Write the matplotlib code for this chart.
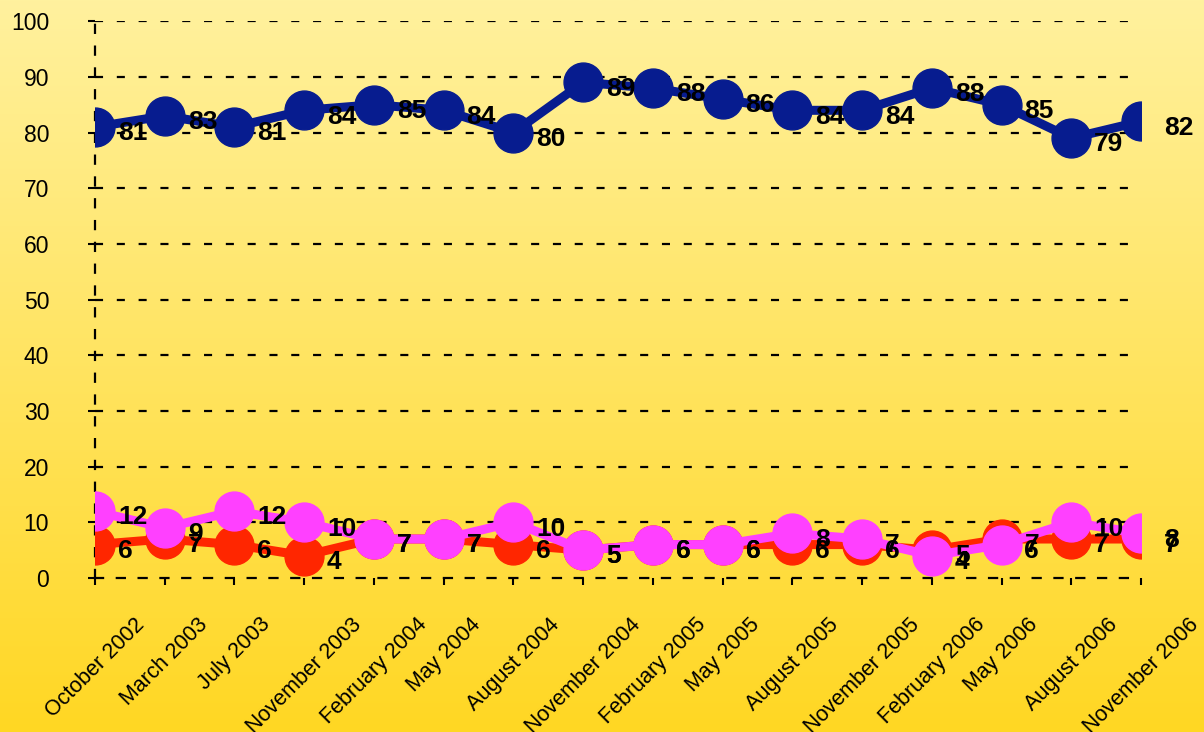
import matplotlib.pyplot as plt
import numpy as np

plt.rcParams['font.family'] = ['Liberation Sans', 'DejaVu Sans']
plt.rcParams['lines.scale_dashes'] = False

# Survey dates (x categories)
dates = ['October 2002', 'March 2003', 'July 2003', 'November 2003', 'February 2004',
         'May 2004', 'August 2004', 'November 2004', 'February 2005', 'May 2005',
         'August 2005', 'November 2005', 'February 2006', 'May 2006', 'August 2006',
         'November 2006']

# Series values (percent)
blue_vals = [81, 83, 81, 84, 85, 84, 80, 89, 88, 86, 84, 84, 88, 85, 79, 82]
red_vals = [6, 7, 6, 4, 7, 7, 6, 5, 6, 6, 6, 6, 5, 7, 7, 7]
magenta_vals = [12, 9, 12, 10, 7, 7, 10, 5, 6, 6, 8, 7, 4, 6, 10, 8]

yticks = list(range(0, 101, 10))

fig = plt.figure(figsize=(12.04, 7.32), dpi=100)

# yellow vertical gradient background
bg = fig.add_axes([0, 0, 1, 1], zorder=-10)
top = np.array([255, 241, 158]) / 255
bot = np.array([255, 215, 35]) / 255
t = np.linspace(0, 1, 256)[:, None]
grad = top * (1 - t[..., None]) + bot * t[..., None]
bg.imshow(grad, aspect='auto', extent=[0, 1, 0, 1])
bg.axis('off')

ax = fig.add_axes([0.0789, 0.2104, 0.8688, 0.7606])
ax.patch.set_alpha(0)

x = np.arange(len(dates))
dash = (0, (5.8, 9.9))

for v in yticks[1:]:
    ax.axhline(v, color='black', lw=1.6, linestyle=dash, zorder=1)

series = [(red_vals, '#FF2600'), (magenta_vals, '#FF40FF'), (blue_vals, '#071C8F')]
for vals, col in series:
    ax.plot(x, vals, color=col, lw=6.5, marker='o', markersize=28, zorder=3)

for vals, col in series:
    for xi, v in zip(x, vals):
        ax.annotate(str(v), (xi, v), xytext=(16.5, -4.5), textcoords='offset points',
                    ha='left', va='center', fontsize=19, fontweight='bold',
                    color='black', zorder=6, annotation_clip=False)

ax.set_xlim(0, len(dates) - 1)
ax.set_ylim(0, 100)
ax.set_yticks(yticks)
ax.set_xticks(x)
ax.set_xticklabels(dates, rotation=45, ha='center', va='top', fontsize=15.5)
ax.tick_params(axis='y', labelsize=16.5, direction='out', length=5, width=1.5, pad=28)
ax.tick_params(axis='x', direction='out', length=5, width=1.5, pad=21)

for s in ['top', 'right']:
    ax.spines[s].set_visible(False)
for s in ['left', 'bottom']:
    ax.spines[s].set_linestyle(dash)
    ax.spines[s].set_linewidth(1.6)

fig.savefig('out.png', dpi=100)
